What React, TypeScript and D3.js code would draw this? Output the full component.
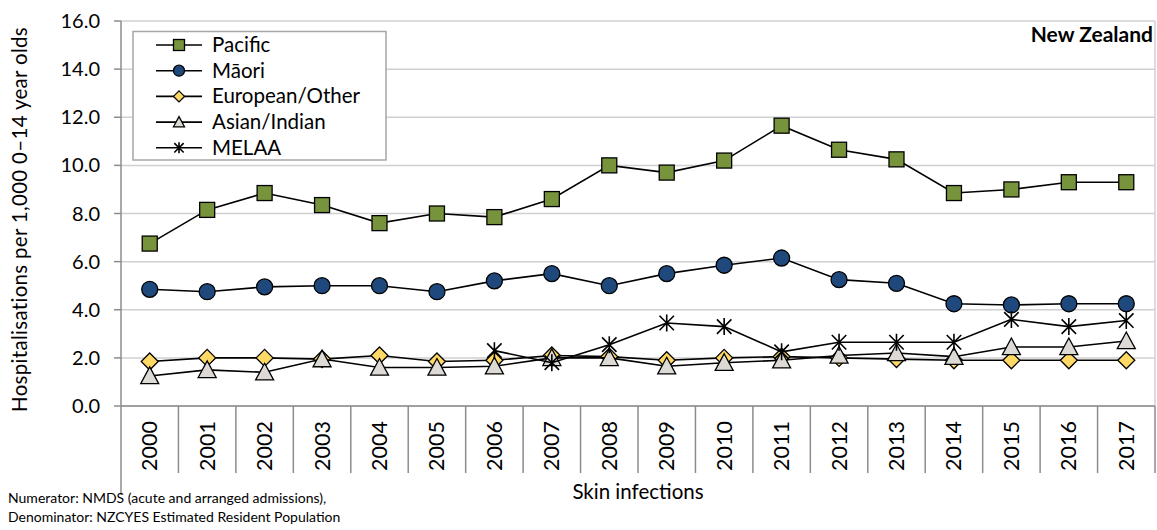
import React from "react";
import * as d3 from "d3";

const years = ["2000", "2001", "2002", "2003", "2004", "2005", "2006", "2007", "2008",
  "2009", "2010", "2011", "2012", "2013", "2014", "2015", "2016", "2017"];
const pacific = [6.75, 8.15, 8.85, 8.35, 7.6, 8.0, 7.85, 8.6, 10.0, 9.7, 10.2, 11.65, 10.65, 10.25, 8.85, 9.0, 9.3, 9.3];
const maori = [4.85, 4.75, 4.95, 5.0, 5.0, 4.75, 5.2, 5.5, 5.0, 5.5, 5.85, 6.15, 5.25, 5.1, 4.25, 4.2, 4.25, 4.25];
const european = [1.85, 2.0, 2.0, 1.95, 2.1, 1.85, 1.9, 2.1, 2.05, 1.9, 2.0, 2.05, 2.0, 1.95, 1.9, 1.9, 1.9, 1.9];
const asian = [1.25, 1.5, 1.4, 1.95, 1.6, 1.6, 1.65, 2.0, 2.0, 1.65, 1.8, 1.9, 2.1, 2.2, 2.05, 2.45, 2.45, 2.7];
const melaa = [null, null, null, null, null, null, 2.3, 1.8, 2.55, 3.45, 3.3, 2.25, 2.65, 2.65, 2.65, 3.6, 3.3, 3.55];
const yTicks = [0, 2, 4, 6, 8, 10, 12, 14, 16];

const FONT = "Lato, 'Open Sans', sans-serif";

type Kind = "square" | "circle" | "diamond" | "triangle" | "star";

const seriesList: { name: string; values: (number | null)[]; kind: Kind; fill: string }[] = [
  { name: "Pacific", values: pacific, kind: "square", fill: "#77933c" },
  { name: "Māori", values: maori, kind: "circle", fill: "#1f497d" },
  { name: "European/Other", values: european, kind: "diamond", fill: "#ffd966" },
  { name: "Asian/Indian", values: asian, kind: "triangle", fill: "#dddad6" },
  { name: "MELAA", values: melaa, kind: "star", fill: "none" },
];

function Marker({ kind, x, y, s, fill }: { kind: Kind; x: number; y: number; s: number; fill: string }) {
  const h = s / 2;
  if (kind === "square")
    return <rect x={x - h} y={y - h} width={s} height={s} fill={fill} stroke="#000" strokeWidth={1.3} />;
  if (kind === "circle")
    return <circle cx={x} cy={y} r={h} fill={fill} stroke="#000" strokeWidth={1.3} />;
  if (kind === "diamond")
    return <path d={`M${x},${y - h}L${x + h},${y}L${x},${y + h}L${x - h},${y}Z`} fill={fill} stroke="#000" strokeWidth={1.3} />;
  if (kind === "triangle")
    return <path d={`M${x},${y - h}L${x + h},${y + h * 0.85}L${x - h},${y + h * 0.85}Z`} fill={fill} stroke="#000" strokeWidth={1.3} />;
  const a = h * 0.85;
  return (
    <path
      d={`M${x},${y - h}L${x},${y + h}M${x - a},${y - a}L${x + a},${y + a}M${x - a},${y + a}L${x + a},${y - a}`}
      stroke="#000"
      strokeWidth={1.6}
      fill="none"
    />
  );
}

export default function App() {
  const W = 1157;
  const H = 530;
  const left = 121;
  const right = 1155;
  const top = 21;
  const bottom = 406;

  const x = d3.scaleBand<string>().domain(years).range([left, right]).padding(0);
  const y = d3.scaleLinear().domain([0, 16]).range([bottom, top]);
  const cx = (yr: string) => (x(yr) ?? 0) + x.bandwidth() / 2;

  const line = d3
    .line<number | null>()
    .defined((d) => d != null)
    .x((_, i) => cx(years[i]))
    .y((d) => y(d as number));

  const sizes: Record<Kind, number> = { square: 15, circle: 16, diamond: 17, triangle: 18, star: 17 };

  return (
    <svg width={W} height={H} style={{ position: "absolute", left: 0, top: 0, background: "#fff" }}>
      {/* gridlines */}
      {yTicks.map((t) => (
        <line key={t} x1={left} x2={right} y1={y(t)} y2={y(t)} stroke="#d0d0d0" strokeWidth={1.5} />
      ))}
      <line x1={right} x2={right} y1={top} y2={bottom} stroke="#d0d0d0" strokeWidth={1.5} />

      {/* y axis */}
      <line x1={left} x2={left} y1={top} y2={495} stroke="#8c8c8c" strokeWidth={1.5} />
      {yTicks.map((t) => (
        <g key={t}>
          <line x1={left - 7} x2={left} y1={y(t)} y2={y(t)} stroke="#8c8c8c" strokeWidth={1.5} />
          <text x={left - 21} y={y(t) + 7} textAnchor="end" fontFamily={FONT} fontSize={20} fill="#000">
            {t.toFixed(1)}
          </text>
        </g>
      ))}
      <text
        transform={`translate(27,219.5) rotate(-90)`}
        textAnchor="middle"
        fontFamily={FONT}
        fontSize={20.5}
        letterSpacing={0.3}
        fill="#000"
      >
        Hospitalisations per 1,000 0–14 year olds
      </text>

      {/* x axis */}
      <line x1={left} x2={right} y1={bottom} y2={bottom} stroke="#8c8c8c" strokeWidth={1.5} />
      {years.map((yr, i) => (
        <g key={yr}>
          {i > 0 && (
            <line x1={x(yr)} x2={x(yr)} y1={bottom} y2={473} stroke="#8c8c8c" strokeWidth={1.5} />
          )}
          <text
            transform={`translate(${cx(yr) + 7.5},${bottom + 15}) rotate(-90)`}
            textAnchor="end"
            fontFamily={FONT}
            fontSize={21.5}
            fill="#000"
          >
            {yr}
          </text>
        </g>
      ))}
      <line x1={right} x2={right} y1={bottom} y2={473} stroke="#8c8c8c" strokeWidth={1.5} />
      <text x={638} y={499} textAnchor="middle" fontFamily={FONT} fontSize={20.5} fill="#000">
        Skin infections
      </text>

      {/* series */}
      {seriesList.map((s) => (
        <g key={s.name}>
          <path d={line(s.values) ?? ""} fill="none" stroke="#000" strokeWidth={1.6} />
          {s.values.map((v, i) =>
            v == null ? null : (
              <Marker key={i} kind={s.kind} x={cx(years[i])} y={y(v)} s={sizes[s.kind]} fill={s.fill} />
            )
          )}
        </g>
      ))}

      {/* legend */}
      <rect x={133} y={31.5} width={253} height={128.5} fill="#fff" stroke="#a6a6a6" strokeWidth={1.5} />
      {seriesList.map((s, i) => {
        const ly = 45 + i * 25.7;
        return (
          <g key={s.name}>
            <line x1={156} x2={202} y1={ly} y2={ly} stroke="#000" strokeWidth={1.6} />
            <Marker kind={s.kind} x={179} y={ly} s={11} fill={s.fill} />
            <text x={212} y={ly + 7} fontFamily={FONT} fontSize={20.5} fill="#000">
              {s.name}
            </text>
          </g>
        );
      })}

      <text x={1153} y={42} textAnchor="end" fontFamily={FONT} fontSize={21} fontWeight="bold" fill="#000">
        New Zealand
      </text>

      {/* footnote */}
      <text x={8} y={503} fontFamily={FONT} fontSize={14} fill="#000">
        Numerator: NMDS (acute and arranged admissions),
      </text>
      <text x={8} y={522} fontFamily={FONT} fontSize={14} fill="#000">
        Denominator: NZCYES Estimated Resident Population
      </text>
    </svg>
  );
}
